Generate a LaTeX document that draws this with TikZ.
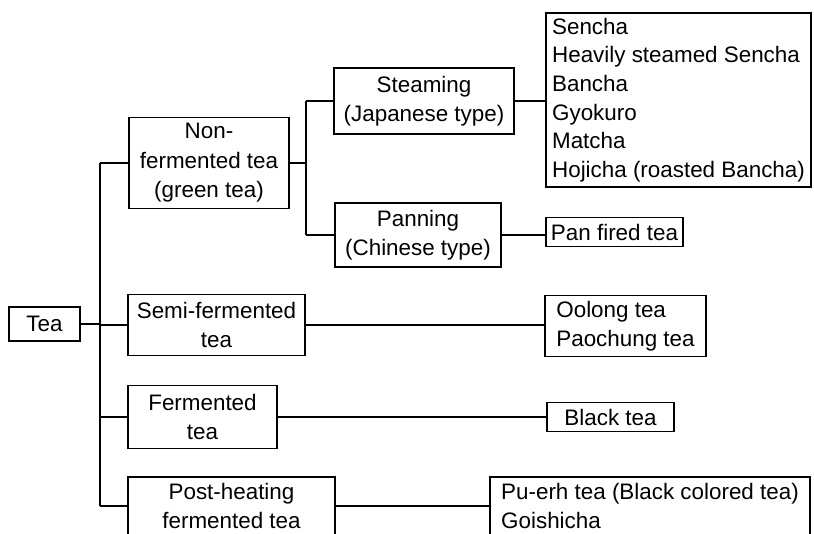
\documentclass[tikz,border=0pt]{standalone}
\usepackage{fontspec}
\setmainfont{Liberation Sans}
\tikzset{
  box/.style={draw=black, line width=1.3pt, inner sep=0pt, align=center,
    font=\fontsize{22.4}{29.5}\selectfont},
  lbox/.style={box, align=left, font=\fontsize{22.4}{28.6}\selectfont},
  conn/.style={draw=black, line width=1.3pt},
}
\begin{document}
\begin{tikzpicture}[x=1pt,y=-1pt]
\clip (0,0) rectangle (814,534);
\fill[white] (0,0) rectangle (814,534);
% nodes
\node[box, minimum width=71pt, minimum height=34pt] (tea) at (44.5,324) {Tea};
\node[box, minimum width=160pt, minimum height=91pt] (nonf) at (209,163) {Non-\\fermented tea\\(green tea)};
\node[box, minimum width=180pt, minimum height=66pt] (steam) at (424,101) {Steaming\\(Japanese type)};
\node[box, minimum width=166pt, minimum height=64pt] (pan) at (418,235) {Panning\\(Chinese type)};
\node[lbox, minimum width=265pt, minimum height=174pt] (list) at (678.5,100) {Sencha\\Heavily steamed Sencha\\Bancha\\Gyokuro\\Matcha\\Hojicha (roasted Bancha)};
\node[box, minimum width=137pt, minimum height=29pt] (panfired) at (614.5,232) {Pan fired tea};
\node[box, minimum width=177pt, minimum height=61pt] (semi) at (216.5,325) {Semi-fermented\\tea};
\node[lbox, minimum width=161pt, minimum height=61pt] (oolong) at (625.5,326) {Oolong tea\\Paochung tea};
\node[box, minimum width=149pt, minimum height=63pt] (ferm) at (202.5,417) {Fermented\\tea};
\node[box, minimum width=127pt, minimum height=29pt] (black) at (610.5,417) {Black tea};
\node[box, minimum width=207pt, minimum height=58pt] (post) at (231.5,506) {Post-heating\\fermented tea};
\node[lbox, minimum width=320pt, minimum height=58pt] (puerh) at (650,506) {Pu-erh tea (Black colored tea)\\Goishicha};
% trunk
\coordinate (t1) at (100,163);
\coordinate (t2) at (100,506);
\draw[conn] (t1) -- (t2);
\draw[conn] (tea.east) -- (tea.east -| t1);
\draw[conn] (t1) -- (nonf.west);
\draw[conn] (semi.west -| t1) -- (semi.west);
\draw[conn] (ferm.west -| t1) -- (ferm.west);
\draw[conn] (t2) -- (post.west);
% branch of green tea
\coordinate (b1) at (306,101);
\coordinate (b2) at (306,235);
\draw[conn] (b1) -- (b2);
\draw[conn] (nonf.east) -- (nonf.east -| b1);
\draw[conn] (b1) -- (steam.west);
\draw[conn] (b2) -- (pan.west);
% leaves
\draw[conn] (steam.east) -- (steam.east -| list.west);
\draw[conn] (pan.east) -- (pan.east -| panfired.west);
\draw[conn] (semi.east) -- (semi.east -| oolong.west);
\draw[conn] (ferm.east) -- (ferm.east -| black.west);
\draw[conn] (post.east) -- (post.east -| puerh.west);
\end{tikzpicture}
\end{document}
